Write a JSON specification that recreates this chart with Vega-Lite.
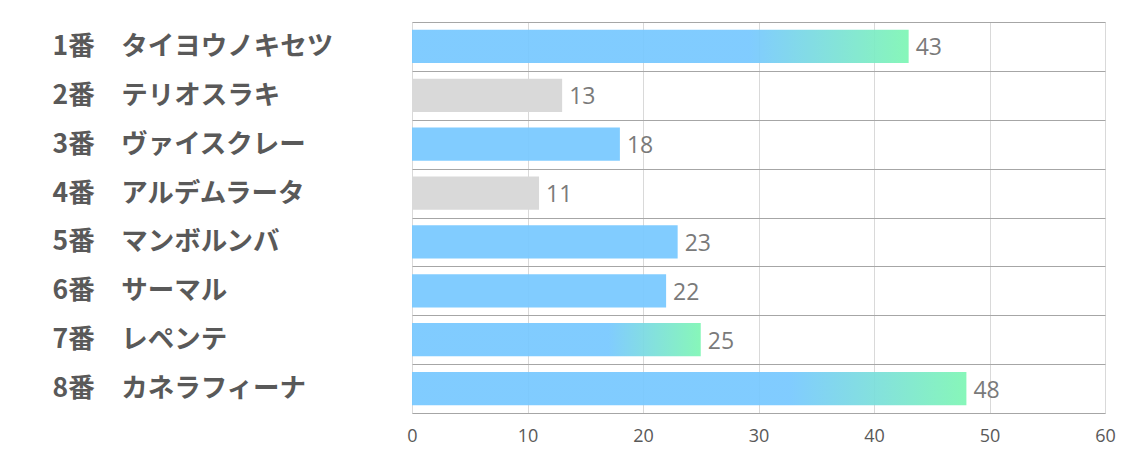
{
  "$schema": "https://vega.github.io/schema/vega-lite/v6.json",
  "width": 693,
  "height": 391,
  "autosize": {"type": "none"},
  "padding": {"left": 412, "top": 22, "right": 29, "bottom": 40},
  "background": "white",
  "data": {"values": [
    {"name": "1番　タイヨウノキセツ", "value": 43, "kind": "grad"},
    {"name": "2番　テリオスラキ", "value": 13, "kind": "gray"},
    {"name": "3番　ヴァイスクレー", "value": 18, "kind": "blue"},
    {"name": "4番　アルデムラータ", "value": 11, "kind": "gray"},
    {"name": "5番　マンボルンバ", "value": 23, "kind": "blue"},
    {"name": "6番　サーマル", "value": 22, "kind": "blue"},
    {"name": "7番　レペンテ", "value": 25, "kind": "grad"},
    {"name": "8番　カネラフィーナ", "value": 48, "kind": "grad"}
  ]},
  "encoding": {
    "y": {
      "field": "name", "type": "nominal",
      "sort": ["1番　タイヨウノキセツ", "2番　テリオスラキ", "3番　ヴァイスクレー", "4番　アルデムラータ", "5番　マンボルンバ", "6番　サーマル", "7番　レペンテ", "8番　カネラフィーナ"],
      "scale": {"paddingInner": 0, "paddingOuter": 0},
      "axis": {
        "title": null, "domain": false, "ticks": false, "tickSize": 0,
        "grid": true, "gridColor": "#a6a6a6", "gridWidth": 1, "tickBand": "extent",
        "labelAlign": "left", "labelPadding": 360, "labelFont": "Noto Sans CJK JP",
        "labelFontSize": 26.5, "labelFontWeight": "bold", "labelColor": "#595959", "labelLimit": 400
      }
    },
    "x": {
      "field": "value", "type": "quantitative",
      "scale": {"domain": [0, 60], "nice": false},
      "axis": {
        "title": null, "values": [0, 10, 20, 30, 40, 50, 60], "domain": false, "ticks": false,
        "grid": true, "gridColor": "#d9d9d9", "labelPadding": 14, "labelFont": "Open Sans",
        "labelFontSize": 18, "labelColor": "#595959", "labelFlush": false
      }
    }
  },
  "layer": [
    {
      "transform": [{"filter": "datum.kind === 'blue'"}],
      "mark": {"type": "bar", "height": {"band": 0.68}, "color": "#77c8ff", "opacity": 0.93}
    },
    {
      "transform": [{"filter": "datum.kind === 'gray'"}],
      "mark": {"type": "bar", "height": {"band": 0.68}, "color": "#d9d9d9"}
    },
    {
      "transform": [{"filter": "datum.kind === 'grad'"}],
      "mark": {"type": "bar", "height": {"band": 0.68}, "opacity": 0.93, "color": {
        "gradient": "linear", "x1": 0, "x2": 1, "y1": 0, "y2": 0,
        "stops": [{"offset": 0, "color": "#77c8ff"}, {"offset": 0.68, "color": "#77c8ff"}, {"offset": 1, "color": "#7ef6b4"}]
      }}
    },
    {
      "mark": {"type": "text", "align": "left", "dx": 7, "dy": 2, "font": "Open Sans", "fontSize": 23, "color": "#7a7a7a"},
      "encoding": {"text": {"field": "value", "type": "quantitative"}}
    }
  ]
}
